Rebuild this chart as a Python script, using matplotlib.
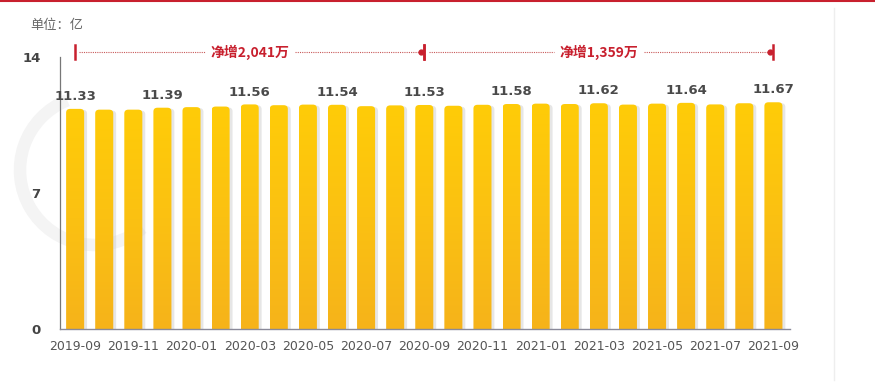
import numpy as np
import matplotlib
matplotlib.use("Agg")
import matplotlib.pyplot as plt
from matplotlib.patches import FancyBboxPatch, Arc
from matplotlib.colors import LinearSegmentedColormap

plt.rcParams['font.family'] = ['DejaVu Sans', 'Noto Sans CJK SC']

months = ["2019-09", "2019-10", "2019-11", "2019-12", "2020-01", "2020-02", "2020-03",
          "2020-04", "2020-05", "2020-06", "2020-07", "2020-08", "2020-09", "2020-10",
          "2020-11", "2020-12", "2021-01", "2021-02", "2021-03", "2021-04", "2021-05",
          "2021-06", "2021-07", "2021-08", "2021-09"]
users = [11.33, 11.29, 11.29, 11.39, 11.42, 11.45, 11.56, 11.52, 11.55, 11.54, 11.47,
         11.51, 11.53, 11.49, 11.54, 11.58, 11.60, 11.58, 11.62, 11.55, 11.60, 11.64,
         11.56, 11.62, 11.67]
labeled = ["2019-09", "2019-12", "2020-03", "2020-06", "2020-09", "2020-12",
           "2021-03", "2021-06", "2021-09"]
tick_months = months[::2]
y_ticks = [0, 7, 14]
growth_spans = [("2019-09", "2020-09", "净增2,041万"), ("2020-09", "2021-09", "净增1,359万")]

fig = plt.figure(figsize=(8.75, 3.88), dpi=100)
fig.patch.set_facecolor("white")
ax = fig.add_axes([60 / 875, 1 - 329 / 388, 730 / 875, 272 / 388])
ax.set_zorder(1)

x = np.arange(len(months))
width = 0.62

# faint watermark ring behind the plot
ring = Arc((95 / 875, 1 - 170 / 388), 150 / 875, 150 / 388, theta1=100, theta2=290,
           transform=fig.transFigure, color="#f4f4f4", lw=9, zorder=0)
fig.add_artist(ring)

bars = ax.bar(x, users, width=width, color="none", edgecolor="none")

cmap = LinearSegmentedColormap.from_list("gold", ["#f6b31a", "#fbc112", "#ffcc08"])
grad = np.linspace(0, 1, 256).reshape(-1, 1)
for b in bars:
    bx, bw, bh = b.get_x(), b.get_width(), b.get_height()
    # soft shadow on the right
    sh = FancyBboxPatch((bx + 0.10, -0.3), bw, bh + 0.25,
                        boxstyle="round,pad=0,rounding_size=0.14", mutation_aspect=1.4,
                        facecolor="#c8c8c8", edgecolor="none", alpha=0.45, zorder=1)
    ax.add_patch(sh)
    patch = FancyBboxPatch((bx, -0.3), bw, bh + 0.3,
                           boxstyle="round,pad=0,rounding_size=0.14", mutation_aspect=1.4,
                           facecolor="none", edgecolor="none", zorder=2)
    ax.add_patch(patch)
    im = ax.imshow(grad, cmap=cmap, aspect="auto", origin="lower",
                   extent=(bx, bx + bw, 0, bh), zorder=2)
    im.set_clip_path(patch)

for m in labeled:
    i = months.index(m)
    ax.text(x[i], users[i] + 0.3, f"{users[i]:.2f}", ha="center", va="bottom",
            fontsize=9.5, color="#4a4a4a", fontweight="bold")

red = "#c8202e"
y_ann = 14.25
for start, end, label in growth_spans:
    x0, x1 = months.index(start), months.index(end)
    xm = (x0 + x1) / 2
    gap = 1.55
    ax.plot([x0 + 0.15, xm - gap], [y_ann, y_ann], ls=(0, (1, 1)), lw=0.8,
            color="#c85a5a", clip_on=False)
    ax.plot([xm + gap, x1 - 0.15], [y_ann, y_ann], ls=(0, (1, 1)), lw=0.8,
            color="#c85a5a", clip_on=False)
    ax.text(xm, y_ann, label, ha="center", va="center", fontsize=10, color=red,
            fontweight="bold", family=["Noto Sans CJK SC", "DejaVu Sans"])
    for xe in (x0, x1):
        ax.plot([xe, xe], [y_ann - 0.35, y_ann + 0.35], color=red, lw=1.8, clip_on=False)
    ax.plot([x1 - 0.12], [y_ann], marker="o", ms=3.5, color=red, clip_on=False)

ax.set_xlim(-0.52, 24.57)
ax.set_ylim(0, 14)
ax.set_yticks(y_ticks)
ax.set_yticklabels([str(v) for v in y_ticks], fontsize=9.5, color="#444444",
                   fontweight="bold")
ax.set_xticks([months.index(m) for m in tick_months])
ax.set_xticklabels(tick_months, fontsize=9, color="#555555")
ax.tick_params(length=0, pad=8)
ax.tick_params(axis="y", pad=14)
for s in ("top", "right"):
    ax.spines[s].set_visible(False)
ax.spines["left"].set_color("#777777")
ax.spines["bottom"].set_color("#8a8a9a")
ax.spines["left"].set_linewidth(0.9)
ax.spines["bottom"].set_linewidth(1.0)
ax.set_facecolor("none")

fig.text(30 / 875, 1 - 25 / 388, "单位：亿", fontsize=9.5, color="#666666", va="center",
         family=["Noto Sans CJK SC", "DejaVu Sans"])

# red rule along the top edge and a light divider on the right
fig.add_artist(plt.Line2D([0, 1], [0.997, 0.997], color="#c8202e", lw=1.5,
                          transform=fig.transFigure))
fig.add_artist(plt.Line2D([834 / 875, 834 / 875], [0.02, 0.98], color="#eeeeee", lw=1,
                          transform=fig.transFigure))

fig.savefig("out.png", dpi=100)
